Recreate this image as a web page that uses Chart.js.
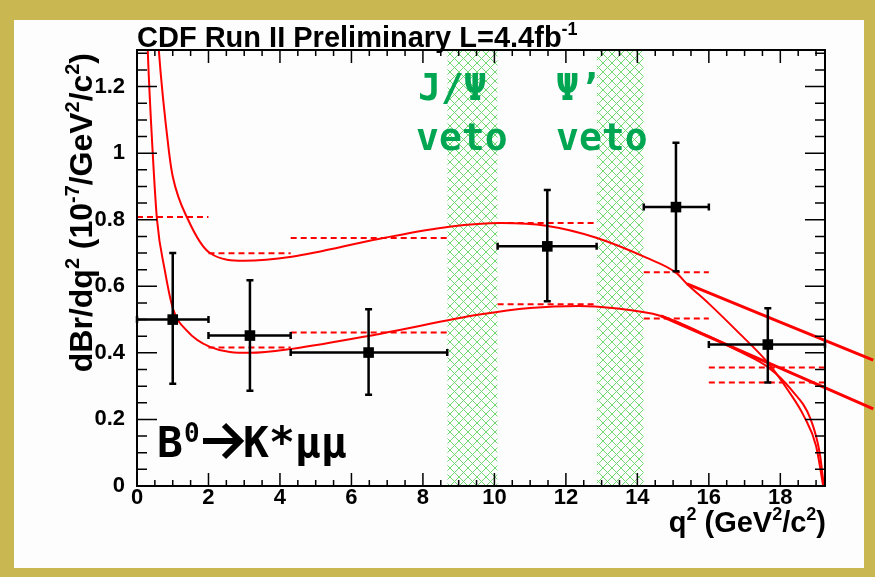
<!DOCTYPE html>
<html>
<head>
<meta charset="utf-8">
<script src="https://cdn.jsdelivr.net/npm/chart.js@4.4.1/dist/chart.umd.min.js"></script>
<style>
  html, body { margin: 0; padding: 0; }
  body { width: 875px; height: 577px; background: #c9b752; position: relative; overflow: hidden; }
  #paper { position: absolute; left: 14px; top: 20px; width: 850px; height: 548px; background: #fdfdfd; }
  #myChart { position: absolute; left: 0; top: 0; }
</style>
</head>
<body>
<div id="paper"></div>
<canvas id="myChart" width="875" height="577"></canvas>
<script>
// q^2 bins and measured points
const binLow = [0, 2, 4.3, 10.09, 14.18, 16];
const binHigh = [2, 4.3, 8.68, 12.86, 16, 19.25];
const pointQ2 = [1.0, 3.16, 6.48, 11.48, 15.08, 17.65];
const pointBr = [0.50, 0.452, 0.401, 0.72, 0.838, 0.425];
const errHigh = [0.70, 0.618, 0.531, 0.889, 1.031, 0.534];
const errLow = [0.307, 0.286, 0.274, 0.555, 0.645, 0.311];

// SM bin averages (dashed)
const smHigh = [null, 0.699, 0.745, 0.790, 0.642, 0.356];
const smLow = [0.808, 0.416, 0.461, 0.546, 0.503, 0.311];

// theory curves
const upperQ2 = [0.55, 0.61, 0.9, 1.0, 1.43, 2.04, 3.0, 4.33, 6.79, 8.74, 10.2, 11.45, 12.85, 14.25, 15.08, 15.39, 16.0, 16.84, 17.68, 18.2, 18.66, 19.0, 19.2];
const upperBr = [1.42, 1.31, 1.0, 0.93, 0.80, 0.70, 0.677, 0.689, 0.743, 0.779, 0.79, 0.782, 0.746, 0.686, 0.641, 0.607, 0.548, 0.46, 0.367, 0.29, 0.21, 0.12, 0.0];
const lowerQ2 = [0.26, 0.30, 0.44, 0.56, 0.78, 1.0, 1.4, 2.04, 3.16, 4.33, 6.79, 9.58, 11.0, 12.37, 13.3, 14.66, 16.0, 16.84, 17.68, 18.3, 18.85, 19.1, 19.22];
const lowerBr = [1.45, 1.31, 1.0, 0.80, 0.647, 0.535, 0.466, 0.418, 0.40, 0.412, 0.457, 0.515, 0.535, 0.541, 0.535, 0.511, 0.45, 0.405, 0.355, 0.29, 0.2, 0.1, 0.0];
const upperLineQ2 = [15.39, 20.6];
const upperLineBr = [0.607, 0.378];
const lowerLineQ2 = [14.66, 20.6];
const lowerLineBr = [0.511, 0.232];

// veto regions
const vetoJpsi = [8.68, 10.09];
const vetoPsi2 = [12.86, 14.18];

const xTicks = [0, 2, 4, 6, 8, 10, 12, 14, 16, 18];
const yTicks = [0, 0.2, 0.4, 0.6, 0.8, 1, 1.2];
const xMax = 19.25;
const yMax = 1.31;

const ctx = document.getElementById("myChart");

// cross-hatch pattern for the veto bands
const pc = document.createElement("canvas");
pc.width = 9;
pc.height = 9;
const pctx = pc.getContext("2d");
pctx.strokeStyle = "#72d872";
pctx.lineWidth = 1;
pctx.beginPath();
pctx.moveTo(0, 0); pctx.lineTo(9, 9);
pctx.moveTo(9, 0); pctx.lineTo(0, 9);
pctx.stroke();
const hatch = ctx.getContext("2d").createPattern(pc, "repeat");

function pts(xs, ys) {
  return xs.map((x, i) => ({ x: x, y: ys[i] }));
}

function binSegments(values) {
  const out = [];
  values.forEach((v, i) => {
    if (v === null) return;
    out.push({ x: binLow[i], y: v }, { x: binHigh[i], y: v }, { x: binHigh[i], y: null });
  });
  return out;
}

function band(range) {
  return [{ x: range[0], y: yMax }, { x: range[1], y: yMax }];
}

const FONT = '"Liberation Sans", Arial, sans-serif';

// text with superscripts
function drawRich(c, parts, x, y, size, align) {
  const sup = size * 0.62;
  let w = 0;
  parts.forEach((p) => {
    c.font = "bold " + (p.sup ? sup : size) + "px " + FONT;
    p.w = c.measureText(p.t).width;
    w += p.w;
  });
  let cx = align === "right" ? x - w : x;
  c.textAlign = "left";
  c.textBaseline = "alphabetic";
  parts.forEach((p) => {
    c.font = "bold " + (p.sup ? sup : size) + "px " + FONT;
    c.fillText(p.t, cx, p.sup ? y - size * 0.42 : y);
    cx += p.w;
  });
}

const errorBars = {
  id: "errorBars",
  afterDatasetsDraw(chart) {
    const c = chart.ctx;
    const xs = chart.scales.x, ys = chart.scales.y;
    c.save();
    c.strokeStyle = "#000";
    c.lineWidth = 2.5;
    pointQ2.forEach((q, i) => {
      const px = xs.getPixelForValue(q), py = ys.getPixelForValue(pointBr[i]);
      const x0 = xs.getPixelForValue(binLow[i]), x1 = xs.getPixelForValue(binHigh[i]);
      const y0 = ys.getPixelForValue(errLow[i]), y1 = ys.getPixelForValue(errHigh[i]);
      c.beginPath();
      c.moveTo(x0, py); c.lineTo(x1, py);
      c.moveTo(px, y0); c.lineTo(px, y1);
      c.moveTo(x0, py - 3.5); c.lineTo(x0, py + 3.5);
      c.moveTo(x1, py - 3.5); c.lineTo(x1, py + 3.5);
      c.moveTo(px - 3.5, y0); c.lineTo(px + 3.5, y0);
      c.moveTo(px - 3.5, y1); c.lineTo(px + 3.5, y1);
      c.stroke();
    });
    c.restore();
  },
};

const frameAndText = {
  id: "frameAndText",
  afterDraw(chart) {
    const c = chart.ctx;
    const a = chart.chartArea;
    const xs = chart.scales.x, ys = chart.scales.y;
    c.save();
    c.strokeStyle = "#000";
    c.lineWidth = 1.5;
    c.beginPath();
    for (let v = 0; v <= yMax + 1e-6; v += 0.05) {
      const py = ys.getPixelForValue(v);
      const major = Math.abs(v / 0.2 - Math.round(v / 0.2)) < 1e-6;
      const len = major ? 20 : 10;
      c.moveTo(a.left, py); c.lineTo(a.left + len, py);
      c.moveTo(a.right, py); c.lineTo(a.right - len, py);
    }
    for (let v = 0; v <= xMax + 1e-6; v += 0.5) {
      const px = xs.getPixelForValue(v);
      const major = Math.abs(v / 2 - Math.round(v / 2)) < 1e-6;
      const len = major ? 13 : 6;
      c.moveTo(px, a.bottom); c.lineTo(px, a.bottom - len);
      c.moveTo(px, a.top); c.lineTo(px, a.top + len);
    }
    c.stroke();
    c.lineWidth = 2;
    c.strokeRect(a.left, a.top, a.right - a.left, a.bottom - a.top);

    c.fillStyle = "#000";
    drawRich(c, [{ t: "CDF Run II Preliminary L=4.4fb" }, { t: "-1", sup: true }], a.left, a.top - 3, 29, "left");
    drawRich(c, [{ t: "q" }, { t: "2", sup: true }, { t: " (GeV" }, { t: "2", sup: true }, { t: "/c" }, { t: "2", sup: true }, { t: ")" }], a.right + 1, 532, 29, "right");

    c.save();
    c.translate(92, a.top + 3);
    c.rotate(-Math.PI / 2);
    drawRich(c, [{ t: "dBr/dq" }, { t: "2", sup: true }, { t: " (10" }, { t: "-7", sup: true }, { t: "/GeV" }, { t: "2", sup: true }, { t: "/c" }, { t: "2", sup: true }, { t: ")" }], 0, 0, 32, "right");
    c.restore();

    // veto labels
    c.fillStyle = "#00a651";
    c.font = 'bold 38px "DejaVu Sans Mono", monospace';
    c.textAlign = "left";
    c.fillText("J/\u03A8", 418, 100);
    c.fillText("veto", 416, 150);
    c.fillText("\u03A8\u2019", 556, 100);
    c.fillText("veto", 556, 150);

    // decay label
    c.fillStyle = "#000";
    c.font = 'bold 43px "DejaVu Sans Mono", monospace';
    c.fillText("B", 157, 457);
    c.font = 'bold 26px "DejaVu Sans Mono", monospace';
    c.fillText("0", 184, 442);
    c.strokeStyle = "#000";
    c.lineWidth = 6;
    c.lineCap = "butt";
    c.lineJoin = "miter";
    c.beginPath();
    c.moveTo(203, 441); c.lineTo(238, 441);
    c.moveTo(224, 425); c.lineTo(240, 441); c.lineTo(224, 457);
    c.stroke();
    c.font = 'bold 43px "DejaVu Sans Mono", monospace';
    c.fillText("K*\u03BC\u03BC", 243, 457);
    c.restore();
  },
};

const curveStyle = { type: "line", showLine: true, pointRadius: 0, borderColor: "#ff0000", borderWidth: 2, cubicInterpolationMode: "monotone", fill: false };
const dashStyle = { type: "line", showLine: true, pointRadius: 0, borderColor: "#ff0000", borderWidth: 2, borderDash: [6, 4], spanGaps: false, fill: false };
const bandStyle = { type: "line", showLine: true, pointRadius: 0, borderWidth: 0, borderColor: "rgba(0,0,0,0)", backgroundColor: hatch, fill: "origin" };

new Chart(ctx, {
  type: "scatter",
  data: {
    datasets: [
      { label: "data", data: pts(pointQ2, pointBr), pointStyle: "rect", pointRadius: 7.5, backgroundColor: "#000", borderWidth: 0 },
      Object.assign({ label: "upper", data: pts(upperQ2, upperBr) }, curveStyle),
      Object.assign({ label: "lower", data: pts(lowerQ2, lowerBr) }, curveStyle),
      Object.assign({ label: "upperLine", data: pts(upperLineQ2, upperLineBr), clip: false }, curveStyle, { borderWidth: 3 }),
      Object.assign({ label: "lowerLine", data: pts(lowerLineQ2, lowerLineBr), clip: false }, curveStyle, { borderWidth: 3 }),
      Object.assign({ label: "smHigh", data: binSegments(smHigh) }, dashStyle),
      Object.assign({ label: "smLow", data: binSegments(smLow) }, dashStyle),
      Object.assign({ label: "J/psi veto", data: band(vetoJpsi) }, bandStyle),
      Object.assign({ label: "psi' veto", data: band(vetoPsi2) }, bandStyle),
    ],
  },
  options: {
    responsive: false,
    animation: false,
    devicePixelRatio: 1,
    layout: { padding: { top: 50, right: 50, left: 0, bottom: 0 } },
    plugins: { legend: { display: false }, tooltip: { enabled: false } },
    scales: {
      x: {
        type: "linear",
        min: 0,
        max: xMax,
        afterFit: (s) => { s.height = 91; },
        afterBuildTicks: (s) => { s.ticks = xTicks.map((v) => ({ value: v })); },
        grid: { display: false },
        border: { display: false },
        ticks: { color: "#000", padding: -9, maxRotation: 0, font: { family: FONT, weight: "bold", size: 22 }, callback: (v) => String(v) },
      },
      y: {
        type: "linear",
        min: 0,
        max: yMax,
        afterFit: (s) => { s.width = 137; },
        afterBuildTicks: (s) => { s.ticks = yTicks.map((v) => ({ value: v })); },
        grid: { display: false },
        border: { display: false },
        ticks: { color: "#000", padding: 4, font: { family: FONT, weight: "bold", size: 22 }, callback: (v) => String(+v.toFixed(1)) },
      },
    },
  },
  plugins: [errorBars, frameAndText],
});
</script>
</body>
</html>
